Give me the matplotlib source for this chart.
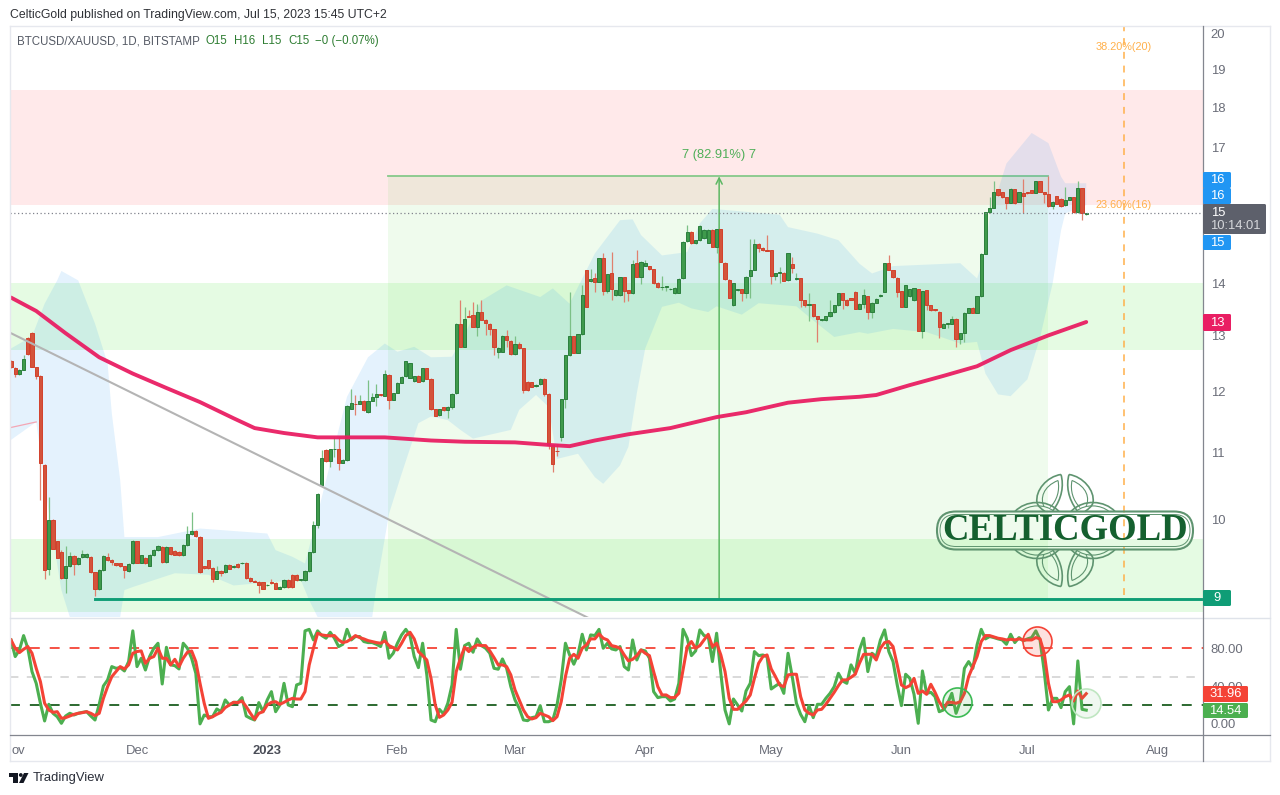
import numpy as np
import pandas as pd
import matplotlib
matplotlib.use("Agg")
import matplotlib.pyplot as plt
import matplotlib.dates as mdates
from matplotlib.lines import Line2D
from matplotlib.patches import FancyBboxPatch, PathPatch, Polygon, Circle
from matplotlib.path import Path
from matplotlib.transforms import Affine2D

plt.rcParams['font.family'] = ['Liberation Sans', 'DejaVu Sans']

W, H = 1280, 795

# daily candles, first one is 2022-11-01
opens = [
    12.53,12.41,12.30,12.38,12.96,13.05,12.42,12.27,10.81,9.31,
    9.99,9.69,9.55,9.20,9.35,9.49,9.38,9.48,9.48,9.48,
    9.27,9.05,9.30,9.48,9.44,9.39,9.39,9.35,9.29,9.39,
    9.69,9.40,9.47,9.36,9.50,9.57,9.62,9.41,9.61,9.56,
    9.55,9.50,9.64,9.79,9.84,9.75,9.35,9.43,9.33,9.19,
    9.29,9.27,9.37,9.34,9.38,9.39,9.40,9.20,9.16,9.15,
    9.14,9.10,9.14,9.13,9.06,9.08,9.17,9.24,9.24,9.17,
    9.17,9.29,9.54,9.92,10.50,11.04,10.86,11.05,11.06,10.84,
    10.89,11.71,11.79,11.79,11.84,11.66,11.84,11.91,11.95,11.93,
    12.29,11.86,11.98,12.15,12.26,12.24,12.18,12.27,12.18,12.40,
    12.22,11.70,11.60,11.73,11.68,11.74,11.97,13.22,12.79,13.36,
    13.39,13.16,13.44,13.29,13.22,13.11,12.70,12.70,12.99,12.90,
    12.66,12.84,12.76,12.17,12.16,12.09,12.13,12.22,11.96,11.12,
    11.03,11.25,11.87,12.64,12.98,12.68,13.02,14.27,14.04,14.10,
    14.03,14.51,13.85,14.20,13.77,13.77,14.12,13.86,13.80,14.41,
    14.13,14.36,14.35,14.29,14.00,13.92,13.93,13.88,13.80,13.81,
    14.10,14.87,15.07,14.82,14.89,14.93,14.84,15.11,14.75,15.13,
    14.42,14.07,13.57,13.86,13.88,13.80,14.15,14.28,14.81,14.73,
    14.68,14.68,14.15,14.21,14.21,14.06,14.39,14.08,14.10,13.67,
    13.57,13.59,13.36,13.28,13.28,13.36,13.44,13.57,13.80,13.68,
    13.71,13.83,13.50,13.59,13.75,13.44,13.62,13.75,13.83,14.41,
    14.26,14.11,13.84,13.54,13.75,13.67,13.88,13.09,13.86,13.57,
    13.49,13.45,13.14,13.22,13.22,13.31,12.93,13.04,13.43,13.52,
    13.43,13.75,14.60,15.49,15.60,16.01,15.94,15.83,15.71,16.01,
    15.73,15.92,15.94,15.99,15.93,16.19,15.94,15.90,15.63,15.85,
    15.80,15.65,15.77,15.83,15.49,16.03,15.45]
closes = [
    12.42,12.30,12.38,12.57,12.66,12.42,12.27,10.83,9.30,9.99,
    9.59,9.47,9.20,9.35,9.49,9.38,9.47,9.52,9.52,9.27,
    9.06,9.30,9.49,9.43,9.41,9.37,9.35,9.30,9.38,9.70,
    9.40,9.50,9.39,9.51,9.57,9.63,9.41,9.62,9.52,9.51,
    9.50,9.64,9.79,9.84,9.76,9.27,9.33,9.33,9.19,9.29,
    9.26,9.37,9.32,9.36,9.34,9.40,9.20,9.16,9.15,9.10,
    9.06,9.11,9.13,9.06,9.08,9.17,9.08,9.08,9.17,9.18,
    9.29,9.54,9.92,10.37,10.91,10.86,11.05,11.06,10.84,10.89,
    11.76,11.81,11.78,11.84,11.68,11.83,11.91,11.95,11.94,12.30,
    11.86,11.97,12.15,12.25,12.53,12.49,12.26,12.17,12.40,12.22,
    11.70,11.59,11.70,11.68,11.74,11.96,13.22,12.79,13.31,13.35,
    13.16,13.44,13.29,13.23,13.11,12.79,12.77,12.99,12.91,12.66,
    12.85,12.76,12.03,12.02,12.08,12.12,12.22,11.96,11.12,10.82,
    11.02,11.87,12.64,12.98,12.68,13.02,13.78,13.54,14.08,14.03,
    14.51,13.84,14.18,13.88,13.86,14.12,13.85,13.80,14.40,14.13,
    14.44,14.42,14.29,14.00,13.92,13.93,13.94,13.89,13.91,14.09,
    14.86,15.07,14.82,14.89,15.19,15.11,15.11,14.75,15.13,14.44,
    14.08,13.72,14.00,13.88,13.81,14.13,14.27,14.81,14.73,14.68,
    14.67,14.15,14.20,14.22,14.05,14.62,14.32,14.10,13.68,13.57,
    13.59,13.36,13.30,13.30,13.36,13.44,13.57,13.80,13.68,13.57,
    13.68,13.50,13.60,13.77,13.44,13.62,13.70,13.78,14.41,14.27,
    14.12,13.83,13.54,13.96,13.88,13.90,13.09,13.84,13.57,13.47,
    13.47,13.15,13.22,13.23,13.31,12.93,13.04,13.43,13.51,13.43,
    13.75,14.60,15.49,15.58,15.96,15.87,15.83,15.71,16.02,15.71,
    15.94,15.85,15.92,15.93,16.19,15.96,15.90,15.63,15.73,15.68,
    15.63,15.77,15.83,15.49,16.03,15.48,15.47]
highs = [
    12.56,12.42,12.39,12.64,12.97,13.06,12.43,12.28,10.82,10.32,
    10.00,9.70,9.57,9.63,9.54,9.50,9.48,9.57,9.53,9.49,
    9.28,9.31,9.50,9.53,9.45,9.40,9.40,9.36,9.39,9.71,
    9.70,9.51,9.48,9.52,9.58,9.64,9.63,9.63,9.62,9.57,
    9.56,9.65,9.91,10.11,9.85,9.76,9.36,9.44,9.34,9.35,
    9.30,9.38,9.38,9.37,9.39,9.41,9.41,9.21,9.17,9.16,
    9.15,9.12,9.18,9.14,9.09,9.18,9.18,9.25,9.25,9.19,
    9.30,9.55,9.97,10.38,11.04,11.05,11.06,11.25,11.25,10.90,
    11.77,12.04,11.94,11.94,11.85,12.20,11.97,12.13,11.96,12.37,
    12.30,11.98,12.16,12.26,12.54,12.50,12.27,12.28,12.41,12.41,
    12.23,11.71,11.71,11.74,11.75,11.97,13.23,13.68,13.54,13.47,
    13.64,13.60,13.67,13.30,13.23,13.12,12.78,13.00,13.10,12.91,
    12.99,12.88,12.77,12.18,12.17,12.13,12.23,12.23,11.97,11.13,
    11.13,11.88,12.65,13.83,12.99,13.03,13.96,14.28,14.30,14.20,
    14.52,14.61,14.19,14.65,13.87,14.13,14.13,13.87,14.47,14.68,
    14.45,14.48,14.36,14.30,14.02,14.15,13.95,13.90,13.92,14.10,
    14.87,15.21,15.08,14.90,15.21,15.12,15.12,15.12,15.14,15.14,
    14.43,14.08,14.01,13.89,13.89,14.14,14.91,14.91,14.82,14.74,
    15.00,14.69,14.21,14.34,14.22,14.63,14.53,14.20,14.11,13.68,
    13.80,13.60,13.37,13.31,13.37,13.67,13.58,13.81,13.81,13.69,
    13.72,13.84,13.61,13.88,13.76,13.63,13.71,13.79,14.42,14.58,
    14.27,14.12,13.85,13.97,13.89,13.91,13.89,13.85,13.87,13.58,
    13.50,13.46,13.23,13.24,13.36,13.32,13.05,13.44,13.52,13.53,
    13.76,14.61,15.50,15.84,16.21,16.02,15.95,15.84,16.03,16.02,
    15.95,16.24,15.95,16.00,16.21,16.20,15.95,16.32,15.74,15.86,
    15.81,16.07,15.84,15.84,16.19,16.04,15.48]
lows = [
    12.40,12.25,12.29,12.38,12.65,12.42,12.22,10.28,9.18,9.24,
    9.58,9.46,9.19,9.00,9.34,9.24,9.37,9.47,9.47,9.26,
    8.96,9.04,9.29,9.42,9.37,9.36,9.34,9.20,9.28,9.38,
    9.39,9.39,9.38,9.35,9.49,9.56,9.40,9.40,9.51,9.50,
    9.49,9.49,9.63,9.78,9.75,9.26,9.32,9.32,9.14,9.18,
    9.22,9.26,9.31,9.33,9.33,9.38,9.19,9.15,9.14,9.00,
    9.05,9.09,9.12,9.05,9.05,9.07,9.07,9.07,9.16,9.16,
    9.16,9.28,9.53,9.88,10.49,10.85,10.78,10.93,10.73,10.83,
    10.86,11.70,11.60,11.78,11.67,11.63,11.83,11.75,11.93,11.92,
    11.70,11.85,11.97,12.14,12.25,12.23,12.17,12.16,12.17,12.21,
    11.69,11.58,11.59,11.67,11.55,11.70,11.96,12.78,12.78,13.34,
    13.15,12.98,13.28,13.00,13.00,12.64,12.58,12.69,12.79,12.65,
    12.65,12.75,11.97,12.01,12.07,12.08,12.12,11.93,11.06,10.70,
    10.95,11.18,11.72,12.63,12.67,12.67,13.01,13.53,14.03,13.83,
    14.02,13.78,13.80,13.67,13.76,13.76,13.64,13.65,13.79,14.12,
    13.98,14.35,14.28,13.99,13.91,13.87,13.85,13.87,13.79,13.80,
    14.09,14.86,14.81,14.81,14.88,14.92,14.83,14.74,14.61,14.43,
    14.07,13.71,13.56,13.85,13.65,13.72,13.72,14.27,14.65,14.67,
    14.66,13.98,14.07,14.00,14.04,14.05,14.20,14.07,13.54,13.54,
    13.27,13.35,12.87,13.27,13.27,13.35,13.43,13.56,13.49,13.56,
    13.67,13.49,13.49,13.51,13.31,13.33,13.61,13.74,13.82,14.26,
    14.11,13.73,13.53,13.53,13.74,13.66,13.08,12.96,13.47,13.46,
    13.46,12.96,13.13,13.14,13.21,12.79,12.84,12.87,13.42,13.42,
    13.42,13.74,14.59,15.47,15.59,15.86,15.82,15.56,15.70,15.68,
    15.72,15.48,15.91,15.92,15.92,15.95,15.69,15.62,15.56,15.67,
    15.62,15.64,15.76,15.48,15.48,15.33,15.44]

# 200 day average, days counted from 2022-11-01
ma_days = [0,6,13,21,29,37,45,53,58,65,73,81,89,100,108,120,128,133,139,147,157,168,175,185,193,202,206,214,222,230,238,247,256]
ma_vals = [13.72,13.46,13.04,12.60,12.31,12.06,11.82,11.55,11.39,11.31,11.24,11.24,11.24,11.19,11.17,11.16,11.12,11.10,11.19,11.29,11.39,11.57,11.65,11.81,11.87,11.91,11.94,12.11,12.27,12.44,12.73,13.00,13.25]

# bollinger style envelope
upper_days = [0,5,8,11,12,16,20,23,24,26,27,35,45,61,63,67,70,72,74,77,80,85,89,92,96,100,105,108,112,118,126,129,133,139,145,148,150,155,161,164,167,183,185,192,197,202,205,210,226,230,232,233,237,243,247,250,251,256]
upper_vals = [12.76,12.98,13.60,14.06,14.25,14.06,13.22,12.49,11.63,10.57,9.75,9.75,9.87,9.80,9.57,9.48,9.39,9.84,10.32,11.09,11.91,12.60,12.85,12.70,12.79,12.60,12.61,13.02,13.66,13.96,13.73,13.90,13.60,14.61,15.32,15.34,15.00,14.57,14.64,15.25,15.57,15.44,15.17,15.03,14.89,14.40,14.20,14.35,14.41,14.10,14.60,15.39,16.61,17.35,17.10,16.30,16.15,16.15]
lower_days = [0,6,9,12,14,16,25,26,27,29,39,47,53,59,69,71,73,74,85,86,87,90,93,97,100,104,107,110,119,121,125,128,130,135,139,141,145,147,149,151,155,159,162,166,168,174,178,187,191,196,202,204,210,218,226,230,232,235,238,242,245,248,250,251,256]
lower_vals = [11.20,11.49,10.10,9.04,8.70,8.30,8.30,8.70,9.04,9.08,9.26,9.24,9.10,9.13,9.17,8.91,8.70,8.30,8.30,8.70,9.08,10.08,10.67,11.47,11.58,11.52,11.36,11.22,11.36,11.69,11.94,11.74,10.90,10.98,10.62,10.52,10.80,11.09,11.97,12.76,13.54,13.62,13.51,13.44,13.55,13.39,13.61,13.55,13.28,12.97,13.06,13.03,13.12,13.06,12.85,12.88,12.31,11.95,11.92,12.21,12.96,14.00,15.10,15.47,15.65]

stoch_k = [
    88.8,71.2,78.2,93.4,80,55.3,42.9,21.8,3.1,20.7,
    11.2,7.6,0.6,8.3,11.2,9.4,11.2,12.2,12.9,8.3,
    4.1,20.7,40.1,46.5,60.6,58.8,59.5,56,65.9,98.4,
    60.6,69.4,57,71.2,80,85.3,42.2,81,62.4,61.6,
    58.1,85.3,80,69.4,53.5,0,9.4,7.6,7.6,15.8,
    12.9,25.3,20,22.8,22.8,27.8,8.3,5.9,4.1,22.5,
    12.9,25.3,34.1,12.9,20,42.9,20,18.2,41.2,42.9,
    98.4,100,88.8,98.4,93.4,90.6,96.9,90.6,81.8,84.2,
    100,88.8,92.4,92.4,87.1,86,86,84.2,81.8,96.9,
    69.4,74.7,85.3,94.1,100,93.4,71.2,59.5,85.3,51.8,
    4.1,2.3,15.4,10.5,21.8,41.2,100,57.8,82.8,85.3,
    75.8,89.9,82.8,80,74.7,58.8,57.8,68.7,58.8,39.4,
    25.3,16.5,4.1,3.4,6.6,7.6,19.3,2.3,2.3,4.1,
    20,46.5,85.3,72.9,63.1,73.6,94.8,78.2,94.1,93.4,
    100,80,85.3,79.3,78.2,81.8,60.6,57,88.8,67.6,
    78.2,77.2,69.4,34.1,27.8,28.8,28.8,24.2,26.3,42.9,
    100,90.6,72.2,77.2,99.4,93.4,92.4,65.9,95.9,53.5,
    14.7,0,26.3,20,13.6,34.8,42.9,76.5,72.2,72.9,
    71.2,36.9,40.1,42.9,32.3,74.7,50,21.8,10.1,2.3,
    19.3,6.6,20.7,20.7,27,32.3,39.4,53.5,45.4,42.9,
    62.4,53.5,78.2,90.6,55.3,74.7,71.2,88.8,99.4,76.5,
    65.9,41.2,19.3,52.5,48.2,31.3,0.6,56,32.3,33.4,
    28.8,12.9,14.7,21.8,32.3,11.2,23.5,58.8,65.9,58.8,
    83.5,100,89.9,92.4,91.3,89.9,88.8,84.2,94.8,86,
    91.3,87.8,89.9,91.3,98.4,88.8,55.3,14.7,27,27,
    17.2,34.1,39.4,0,66.6,15.4,14.54]
stoch_d = [
    88.8,80,75.4,78.9,81.8,74.7,58.8,44.7,21.8,14.7,
    12.2,12.9,5.9,6.6,8.3,10.1,11.2,11.9,12.9,11.2,
    8.7,11.2,27,39.4,50,55.3,60.6,58.1,62.4,74.7,
    76.5,77.2,64.1,69.4,71.2,80,69.4,69.4,62.4,68.3,
    60.6,69.4,75.8,77.2,65.9,42.9,21.8,5.9,7.6,10.1,
    12.2,17.2,20,22.8,22.5,24.2,18.2,11.2,4.8,11.2,
    12.9,20,22.8,23.5,20.7,22.8,25.3,27,26.3,26.3,
    34.1,62.4,80,95.9,94.1,93.4,93.1,93.4,88.8,86,
    87.1,89.9,93.4,91.3,89.9,88.1,87.1,86,85.3,87.8,
    82.8,80.7,78.2,85.3,93.4,96.9,89.9,76.5,72.2,67.6,
    48.2,20,6.9,9.4,14.7,22.8,55.3,69.4,81,76.5,
    81,83.5,82.8,82.8,77.2,70.1,62.4,62.4,60.6,51.8,
    35.9,25.3,14.7,7.6,5.2,6.6,11.2,9.4,7.6,3.4,
    7.6,23.5,50,69.4,73.6,69.4,80,83.5,89.9,89.9,
    95.2,90.6,88.8,82.8,81.8,80,72.9,66.6,68.3,72.2,
    78.2,74.7,72.2,55.3,39.4,30.6,30.6,27.8,27.8,32.3,
    57,81.8,87.1,80,82.8,88.8,94.8,81.8,85.3,72.9,
    55.3,27,15.4,15.4,20,24.2,30.6,48.2,64.1,71.2,
    72.9,58.1,50,41.2,39.4,51.8,52.5,52.5,28.8,14.7,
    11.2,9.4,14.7,15.4,20.7,27,33.4,40.5,46.5,46.5,
    49.3,52.5,64.1,73.6,73.6,73.6,67.6,80,86,87.1,
    81.8,62.4,41.2,38.3,40.5,48.2,32.3,34.8,31.3,41.9,
    33.4,23.5,16.5,22.8,22.8,21.8,23.5,32.3,50,60.6,
    71.2,87.1,93.4,93.4,92,90.6,89.9,88.8,89.5,88.8,
    89.9,88.8,88.8,88.8,91.3,89.9,74.7,42.9,23.5,23.5,
    25.3,28.8,30.6,24.2,34.8,27,31.96]

# 9, 15 and 16 are shown by the price tags
price_ticks = [10,11,12,13,14,17,18,19,20]
stoch_ticks = [0,40,80]
month_ticks = ["2022-11-01","2022-12-01","2023-01-01","2023-02-01","2023-03-01","2023-04-01","2023-05-01","2023-06-01","2023-07-01","2023-08-01"]
month_labels = ["ov","Dec","2023","Feb","Mar","Apr","May","Jun","Jul","Aug"]

GREEN = '#3f9a4c'
RED = '#d4533b'
GRAY_TXT = '#6a6d78'

fig = plt.figure(figsize=(W/100, H/100), dpi=100, facecolor='white')
pix = Affine2D().scale(1, -1).translate(0, H)

ax = fig.add_axes([10/W, 1-617/H, 1193/W, 590/H])
ax2 = fig.add_axes([10/W, 1-734/H, 1193/W, 116/H])

base = mdates.date2num(pd.Timestamp("2022-11-01"))
days = np.arange(len(opens))
x = base + days

# --- price pane
ax.set_yscale('log')
ax.set_ylim(8.70, 20.18)
ax.set_xlim(base-0.24, base+283.8)

ax.axhspan(15.65, 18.45, color='#ffe9ea', lw=0, zorder=0)
ax.axhspan(12.74, 14.0, color='#e5fbe3', lw=0, zorder=0)
ax.axhspan(8.76, 9.73, color='#e5fbe3', lw=0, zorder=0)

# long position box
ax.fill_between([base+89.8, base+246.9], 8.93, 16.31, color='#4fdc37', alpha=0.085, lw=0, zorder=1)
ax.plot([base+89.8, base+246.9], [16.31, 16.31], color='#86c98a', lw=1.3, zorder=2)
ax.annotate('', xy=(base+168.6, 16.31), xytext=(base+168.6, 8.93),
            arrowprops=dict(arrowstyle='->', color='#5cb863', lw=1.1, mutation_scale=11, shrinkA=0, shrinkB=0), zorder=3)
ax.text(base+168.6, 16.31*1.0305, '7 (82.91%) 7', color='#4fae58', fontsize=9.3, ha='center', va='center')

ax.fill(np.r_[base+np.array(upper_days), base+np.array(lower_days)[::-1]],
        np.r_[upper_vals, lower_vals[::-1]], color='#2196f3', alpha=0.12, lw=0, zorder=2)

ax.plot([base, base+6], [11.40, 11.49], color='#f4a6b4', lw=0.9, zorder=3)

colors = [RED if c < o else GREEN for o, c in zip(opens, closes)]
edges = ['#d2412c' if c < o else '#2b7f3d' for o, c in zip(opens, closes)]
ax.vlines(x, lows, highs, colors=['#e0806e' if c < o else '#7cc086' for o, c in zip(opens, closes)], lw=0.9, zorder=4)
tops = np.maximum(opens, closes)
bots = np.minimum(opens, closes)
ax.bar(x, tops-bots, bottom=bots, width=0.74, color=colors, edgecolor=edges, lw=0.7, zorder=5)

ax.plot(base+np.array([0,137.4]), [13.04,8.69], color='#b4b4b4', lw=1.5, zorder=6)
ax.plot(base+np.array(ma_days), ma_vals, color='#e91e63', lw=2.8, alpha=0.95, solid_capstyle='round', zorder=6)
ax.plot([base+20, base+283.8], [8.93, 8.93], color='#0f9d76', lw=2.1, zorder=6)
ax.axhline(15.47, color='#80838d', lw=0.9, ls=(0,(1,2)), zorder=6)

# fib lines
ax.plot([base+265, base+265], [8.98, 20.18], color='#ffb04a', lw=1.1, ls=(0,(4.5,4.5)), zorder=6)
ax.text(base+264.8, 19.6, '38.20%(20)', color='#ffb04a', fontsize=7.8, ha='center', va='center')
ax.text(base+264.8, 15.65, '23.60%(16)', color='#ffb04a', fontsize=7.8, ha='center', va='center', zorder=7)

ax.yaxis.tick_right()
ax.set_yticks(price_ticks)
ax.set_yticklabels([str(t) for t in price_ticks])
ax.minorticks_off()
ax.tick_params(axis='y', length=0, pad=5.5, labelsize=9.4, labelcolor=GRAY_TXT)
ax.set_xticks([])

# --- stochastic pane
ax2.set_xlim(base-0.24, base+283.8)
ax2.set_ylim(-10.7, 112)
for level, col in [(80,'#f44336'), (20,'#1b5e20')]:
    ax2.axhline(level, color=col, lw=1.3, ls=(0,(5.5,5.5)), zorder=1)
ax2.axhline(50, color='#cfcfcf', lw=1.1, ls=(0,(5.5,5.5)), zorder=1)
ax2.plot(x, stoch_k, color='#4caf50', lw=2.2, zorder=3)
ax2.plot(x, stoch_d, color='#f44336', lw=2.2, zorder=4)

ax2.scatter([base+225.2], [22.9], s=437, facecolor='#4caf5022', edgecolor='#3cba54', lw=1.2, zorder=5)
ax2.scatter([base+244.3], [87.8], s=437, facecolor='#f4433628', edgecolor='#f44336', lw=1.2, zorder=5)
ax2.scatter([base+256], [22.4], s=437, facecolor='#4caf5014', edgecolor='#bfe6c1', lw=1.2, zorder=5)

ax2.yaxis.tick_right()
ax2.set_yticks(stoch_ticks)
ax2.set_yticklabels(['%.2f' % t for t in stoch_ticks])
ax2.tick_params(axis='y', length=0, pad=5.5, labelsize=9.4, labelcolor=GRAY_TXT)
ax2.set_xticks([mdates.date2num(pd.Timestamp(m)) for m in month_ticks])
ax2.set_xticklabels(month_labels)
ax2.tick_params(axis='x', length=0, pad=8, labelsize=9.4, labelcolor=GRAY_TXT)
for lab, name in zip(ax2.get_xticklabels(), month_labels):
    if name == "2023":
        lab.set_fontweight('bold')
        lab.set_color('#4a4d57')
    if name == "ov":
        lab.set_ha('left')

for a in (ax, ax2):
    for s in a.spines.values():
        s.set_visible(False)
    a.patch.set_alpha(0)

# --- frame lines
def line(x0, y0, x1, y1, color, lw=1.0, z=0.5):
    fig.add_artist(Line2D([x0, x1], [y0, y1], color=color, lw=lw, transform=pix, zorder=z))

line(9.5, 26, 1270, 26, '#e6e8ee')
line(9.5, 26, 9.5, 761, '#e6e8ee')
line(1270, 26, 1270, 761, '#e6e8ee')
line(9.5, 761, 1270, 761, '#e6e8ee')
line(10, 617.5, 1270, 617.5, '#dfe3ea')
line(10, 734.5, 1270, 734.5, '#83868f', 0.9)
line(1203, 26, 1203, 761, '#83868f', 0.9)

# --- price tags
def tag(x0, y0, x1, y1, color, text, size=9.4, tcolor='white'):
    fig.add_artist(FancyBboxPatch((x0, y0), x1-x0, y1-y0, boxstyle='round,pad=0,rounding_size=1.5',
                                  fc=color, ec='none', transform=pix, zorder=3))
    fig.text((x0+x1)/2, (y0+y1)/2+0.3, text, color=tcolor, fontsize=size,
             ha='center', va='center', transform=pix, zorder=4)

tag(1203, 172, 1231, 188, '#2196f3', '16')
tag(1203, 188, 1231, 204, '#2196f3', '16')
tag(1203, 235, 1231, 250, '#2196f3', '15')
tag(1203, 204, 1266, 234, '#5d606b', '')
fig.text(1218, 212.5, '15', color='white', fontsize=9.4, ha='center', va='center', transform=pix, zorder=4)
fig.text(1235, 226, '10:14:01', color='#d6d7db', fontsize=9.4, ha='center', va='center', transform=pix, zorder=4)
tag(1203, 314, 1231, 331, '#e91e63', '13')
tag(1203, 590, 1231, 606, '#0f9d76', '9')
tag(1203, 686, 1248, 702, '#f44336', '31.96')
tag(1203, 703, 1248, 718, '#4caf50', '14.54')

# --- header and footer
fig.text(10, 15, 'CelticGold published on TradingView.com, Jul 15, 2023 15:45 UTC+2',
         color='#2f3136', fontsize=8.8, va='center', transform=pix)
fig.text(17, 41, 'BTCUSD/XAUUSD, 1D, BITSTAMP', color='#555a65', fontsize=8.3, va='center', transform=pix)
for tx, s in [(206,'O15'), (234,'H16'), (262,'L15'), (288,'C15'), (315,'\u22120 (\u22120.07%)')]:
    fig.text(tx, 41, s, color='#2e7d32', fontsize=8.3, va='center', transform=pix)

fig.add_artist(Polygon([(9,773),(18,773),(18,783),(13,783),(13,777),(9,777)], fc='#131722', ec='none', transform=pix, zorder=3))
fig.add_artist(Circle((20.8,775), 1.9, fc='#131722', ec='none', transform=pix, zorder=3))
fig.add_artist(Polygon([(24,773),(28.5,773),(23.5,783),(19,783)], fc='#131722', ec='none', transform=pix, zorder=3))
fig.text(33, 778.5, 'TradingView', color='#2a2e39', fontsize=9.4, va='center', transform=pix)

# --- logo
LOGO = '#5f9470'
CX, CY = 1065, 530.5

def stroke(points, lw):
    for sx in (-1, 1):
        for sy in (1, -1):
            verts = [(CX+sx*a, CY+sy*b) for a, b in points]
            codes = [Path.MOVETO] + [Path.CURVE4]*(len(verts)-1)
            fig.add_artist(PathPatch(Path(verts, codes), fc='none', ec=LOGO, lw=lw, transform=pix, zorder=3))

stroke([(4,-56),(18,-54),(30,-40),(28,-28),(27,-24),(24,-22),(20,-19)], 1.2)
stroke([(4,-56),(1,-45),(3,-32),(12,-20)], 1.2)
stroke([(7,-50),(22,-44),(25,-32),(21,-24)], 0.8)
stroke([(7,-50),(5,-40),(8,-30),(15,-23)], 0.8)
stroke([(50,-19),(40,-30),(18,-32),(6,-19)], 1.2)
stroke([(44,-19),(36,-26),(20,-27),(11,-19)], 0.8)

fig.add_artist(FancyBboxPatch((937, 511.5), 256, 38, boxstyle='round,pad=0,rounding_size=19',
                              fc='none', ec=LOGO, lw=1.5, transform=pix, zorder=3))
fig.add_artist(FancyBboxPatch((940, 514.5), 250, 32, boxstyle='round,pad=0,rounding_size=16',
                              fc='none', ec=LOGO, lw=0.7, transform=pix, zorder=3))
fig.text(1065, 531, 'CELTICGOLD', color='#15602f', fontsize=26.5, family=['Liberation Serif', 'DejaVu Sans'],
         fontweight='bold', ha='center', va='center', transform=pix, zorder=4)

fig.savefig('out.png', dpi=100, facecolor='white')
